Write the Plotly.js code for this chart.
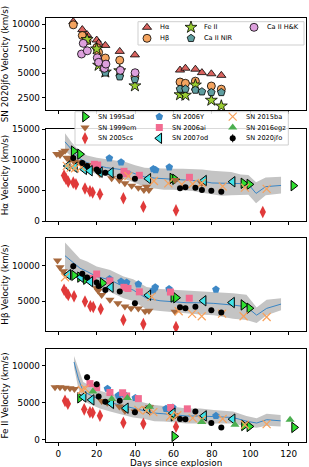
<!DOCTYPE html>
<html><head><meta charset="utf-8">
<script src="https://cdn.plot.ly/plotly-3.0.1.min.js"></script>
<style>html,body{margin:0;padding:0;background:#fff}#c{width:309px;height:467px}</style>
</head><body><div id="c"></div>
<script>
// ---------------- DATA ----------------
// SN 2020jfo epochs (days since explosion)
const jfoDays = [7.8, 12.5, 15.0, 20.0, 21.0, 24.5, 32.0, 39.9, 63.4, 66.2, 71.4, 74.8, 79.7, 84.9];
const jfoHa   = [10280, 9470, 8950, 8400, 8080, 7850, 7240, 6880, 5330, 5520, 5420, 5070, 4950, 4790];
const jfoHb   = [9950, 8860, 8330, 7630, 7140, 6560, 6340, 4700, 4110, 3980, 4200, null, 3700, 3380];
const jfoFe   = [null, null, 8450, 7490, 5820, 5130, 5260, 3720, 2810, 2760, 3800, null, 2250, 1660];
const jfoCaNIR= [null, null, null, null, null, 5050, 4650, 4380, 3390, 3390, 3290, 3120, 3050, 3050];
const jfoErr  = [450, 420, 400, 380, 380, 360, 360, 340, 320, 320, 320, 300, 300, 300];
const hkDays  = [12.1, 13.0, 15.1, 20.3, 21.0, 24.0, 24.8, 32.3, 40.0];
const hkVel   = [6970, 8060, 7300, 6590, 6120, 5510, 5940, 5300, 5060];

// H-alpha comparison sample
const ha95adD = [8.0, 11.3, 59.4, 60.8, 96.4, 99.5, 122.4];
const ha95adV = [11400, 10900, 6950, 6800, 6150, 5980, 5760];
const ha99emD = [-0.8, 0.9, 2.1, 3.5, 4.4, 5.7, 7.0, 8.2, 9.9, 12.2, 15.1, 18.2, 21.7, 27.8, 31.8, 34.7, 38.2, 41.7, 44.6, 46.0, 47.2, 60.8, 74.7];
const ha99emV = [10920, 10760, 11190, 11460, 10320, 9940, 10220, 9670, 9560, 9240, 9130, 8690, 7610, 6960, 6630, 6140, 5750, 5430, 5050, 5590, 5050, 6680, 6140];
const ha05csD = [3.0, 4.0, 5.2, 7.8, 9.2, 13.9, 16.5, 17.9, 21.7, 33.9, 44.3, 61.3, 106.5];
const ha05csV = [7400, 6900, 6400, 6250, 6000, 5300, 4850, 4650, 4380, 3700, 2330, 1730, 1460];
const ha06YD  = [26.6, 32.7, 49.5, 50.7, 57.8];
const ha06YV  = [10220, 9570, 8480, 8310, 8750];
const ha06aiD = [18.8, 20.5, 34.2, 35.6, 42.2, 68.3];
const ha06aiV = [9240, 9130, 8100, 7700, 7450, 7120];
const ha07odD = [4.9, 8.7, 13.5, 16.5, 21.7, 27.4, 46.9, 75.9, 90.8];
const ha07odV = [8970, 8750, 8420, 8200, 7950, 7880, 6900, 6600, 6400];
const ha15baD = [4.4, 6.5, 8.7, 12.0, 36.5, 49.8, 57.3, 64.3, 70.0, 74.7, 85.6, 97.2, 108.5];
const ha15baV = [9000, 8700, 8600, 8800, 7330, 6520, 6140, 5980, 6030, 6200, 5650, 5450, 5250];
const haMeanD = [3.5, 7, 11, 15, 20, 25, 30, 35, 40, 45, 50, 55, 60, 65, 70, 75, 80, 85, 90, 95, 99, 103, 108, 116];
const haMean  = [12900, 11600, 10200, 9500, 9100, 8700, 8500, 8300, 7700, 7200, 7000, 6900, 6900, 6800, 6700, 6500, 6200, 6200, 6200, 6100, 6000, 4500, 5600, 5800];
const haLo    = [11400, 10500, 9100, 8300, 7600, 7300, 7100, 6800, 6200, 5600, 5300, 5100, 5100, 5000, 4900, 4600, 4400, 4100, 4200, 4300, 4300, 2900, 4200, 4500];
const haHi    = [14300, 12800, 11400, 10700, 10300, 10100, 9900, 9600, 9100, 8700, 8600, 8500, 8500, 8500, 8500, 8400, 8200, 8100, 8000, 7600, 7500, 6300, 7100, 7200];

// H-beta comparison sample
const hb95adD = [8.2, 11.3, 14.4, 23.1, 59.9, 61.3, 96.4, 99.5];
const hb95adV = [8650, 8400, 8100, 7550, 5570, 5470, 4450, 3980];
const hb99emD = [-0.4, 0.9, 2.6, 4.5, 20.0, 20.8, 22.6, 26.9, 31.0, 34.7, 37.9, 41.7, 45.2, 47.2, 60.8];
const hb99emV = [10760, 9810, 9240, 8800, 6810, 6470, 5860, 5190, 4700, 4220, 3980, 3930, 3550, 3620, 3470];
const hb05csD = [3.0, 4.2, 5.2, 8.2, 13.9, 16.7, 18.2, 22.1, 33.9, 44.3, 61.3];
const hb05csV = [6600, 6170, 5860, 5690, 4930, 4260, 4150, 3880, 2310, 1730, 1310];
const hb06YD  = [26.7, 32.7, 35.6, 41.7, 49.5, 50.5, 57.7, 82.1];
const hb06YV  = [8120, 7780, 7640, 7380, 6550, 6950, 6710, 6640];
const hb06aiD = [18.0, 20.0, 26.9, 34.2, 36.3, 42.2, 58.4, 68.2];
const hb06aiV = [8200, 8840, 7860, 6950, 6780, 6310, 6280, 5400];
const hb07odD = [5.2, 11.8, 16.7, 27.4, 46.9, 75.7, 90.5];
const hb07odV = [8750, 8380, 7750, 6960, 5830, 5040, 4790];
const hb15baD = [3.5, 48.6, 62.7, 69.7, 74.7, 85.3, 96.5, 108.5];
const hb15baV = [8380, 5620, 3550, 3190, 2840, 3210, 2840, 2740];
const hbMeanD = [3.5, 7, 11.3, 15, 20, 27, 34, 39, 46, 53, 60, 67, 74, 81, 91, 98, 103.3, 108.5, 116];
const hbMean  = [11430, 10620, 9670, 9190, 8480, 8000, 7050, 6570, 5380, 5040, 4900, 4760, 4760, 4670, 4430, 4190, 3000, 3960, 4570];
const hbLo    = [9500, 9000, 8400, 7700, 6800, 6300, 5400, 5000, 3800, 3600, 3400, 3200, 3100, 3000, 2500, 2300, 1900, 3000, 3700];
const hbHi    = [13300, 12200, 11000, 10600, 9900, 9400, 8500, 8100, 7000, 6700, 6600, 6400, 6400, 6200, 6100, 5900, 4100, 5200, 5400];

// Fe II comparison sample
const fe95adD = [11.3, 60.0, 60.4, 96.7, 99.5, 122.8];
const fe95adV = [5650, 3220, 450, 1920, 1790, 1660];
const fe99emD = [-1.7, 0.9, 3.5, 6.1, 8.4, 22.6, 25.5, 31.8, 34.7, 40.0, 46.0, 47.5, 60.8];
const fe99emV = [7100, 7100, 7030, 6950, 6850, 5240, 5000, 4480, 3900, 3800, 4170, 4400, 3300];
const fe05csD = [3.5, 5.0, 13.5, 16.5, 17.9, 21.7, 33.9, 44.3, 61.3];
const fe05csV = [5250, 4850, 4100, 3700, 3650, 3250, 2300, 2150, 1750];
const fe06YD  = [25.6, 31.3, 34.2, 40.1, 56.1, 59.6, 82.1];
const fe06YV  = [6900, 5960, 6140, 5650, 4170, 4350, 3220];
const fe06aiD = [16.5, 20.0, 26.9, 33.5, 35.6, 41.7, 58.5, 67.2];
const fe06aiV = [7580, 7030, 6380, 6340, 5910, 5550, 4350, 4170];
const fe07odD = [13.2, 17.4, 27.6, 35.2, 46.5, 59.6, 75.9, 90.8];
const fe07odV = [5780, 5380, 4900, 4260, 4100, 3590, 3220, 2780];
const fe15baD = [12.2, 14.0, 41.7, 46.0, 49.5, 58.2, 62.0, 70.0, 74.7, 85.6, 97.2, 108.5];
const fe15baV = [6720, 6900, 4030, 3950, 3720, 3130, 3300, 2910, 2690, 2820, 2020, 2110];
const fe16egzD = [18.0, 27.8, 36.0, 47.5, 74.7, 92.0, 120.7];
const fe16egzV = [6500, 5510, 5650, 4450, 2380, 2020, 2690];
const feMeanD = [8.2, 10.4, 13, 16.5, 21.7, 27, 32, 39, 45, 50, 55, 60, 67, 74, 81, 86, 91, 98, 103.3, 108.5, 115.8];
const feMean  = [10500, 8300, 6500, 6050, 5400, 5000, 4700, 4200, 3900, 3600, 3500, 3400, 3200, 3200, 3100, 3050, 3000, 2500, 2250, 2700, 2550];
const feLo    = [9800, 7000, 5200, 4800, 4200, 3800, 3500, 3000, 2800, 2500, 2450, 2350, 2200, 2200, 2200, 2150, 2200, 1800, 1600, 1900, 1800];
const feHi    = [11300, 9600, 7800, 7300, 6600, 6200, 5900, 5400, 5000, 4700, 4550, 4450, 4200, 4200, 4000, 3950, 3800, 3200, 2900, 3500, 3350];

const xTicks = [0, 20, 40, 60, 80, 100, 120];
const lineNames = ['H\u03b1', 'H\u03b2', 'Fe II', 'Ca II NIR', 'Ca II H&K'];
const snNames = ['SN 1995ad', 'SN 1999em', 'SN 2005cs', 'SN 2006Y', 'SN 2006ai', 'SN 2007od', 'SN 2015ba', 'SN 2016egz', 'SN 2020jfo'];

// ---------------- STYLES ----------------
const FONT = 'DejaVu Sans, sans-serif';
const topSty = {
  'H\u03b1': {symbol: 'triangle-up', color: '#d9635f', size: 8, line: {color: '#000', width: 0.8}},
  'H\u03b2': {symbol: 'circle', color: '#f4a460', size: 8, line: {color: '#000', width: 0.8}},
  'Fe II': {symbol: 'star', color: '#9acd32', size: 9, line: {color: '#000', width: 0.8}},
  'Ca II NIR': {symbol: 'pentagon', color: '#5f9ea0', size: 8, line: {color: '#000', width: 0.8}},
  'Ca II H&K': {symbol: 'circle', color: '#dda0dd', size: 8, line: {color: '#000', width: 0.8}}
};
const snSty = {
  'SN 1995ad': {symbol: 'triangle-right', color: '#2fe02f', size: 9, line: {color: '#000', width: 1}},
  'SN 1999em': {symbol: 'triangle-down', color: '#a8693d', size: 8, line: {width: 0}},
  'SN 2005cs': {symbol: 'diamond-tall', color: '#e03a3a', size: 9, line: {width: 0}},
  'SN 2006Y': {symbol: 'pentagon', color: '#3d88c6', size: 8, line: {width: 0}},
  'SN 2006ai': {symbol: 'square', color: '#f26b90', size: 7, line: {width: 0}},
  'SN 2007od': {symbol: 'triangle-left', color: '#3fe3e8', size: 9, line: {color: '#000', width: 1}},
  'SN 2015ba': {symbol: 'x-thin-open', color: '#f7a15b', size: 8, line: {color: '#f7a15b', width: 1.2}},
  'SN 2016egz': {symbol: 'triangle-up', color: '#4caf50', size: 8, line: {width: 0}},
  'SN 2020jfo': {symbol: 'circle', color: '#000', size: 6, line: {width: 0}}
};

const traces = [];
function pts(xa, ya, xs, ys, sty, extra) {
  const t = {type: 'scatter', mode: 'markers', x: xs, y: ys, xaxis: xa, yaxis: ya,
    marker: sty, showlegend: false, hoverinfo: 'skip', cliponaxis: true};
  if (extra) Object.assign(t, extra);
  traces.push(t);
}
function band(xa, ya, d, lo, hi, mean) {
  traces.push({type: 'scatter', mode: 'lines', x: d, y: lo, xaxis: xa, yaxis: ya,
    line: {width: 0, color: 'rgba(0,0,0,0)'}, showlegend: false, hoverinfo: 'skip'});
  traces.push({type: 'scatter', mode: 'lines', x: d, y: hi, xaxis: xa, yaxis: ya, fill: 'tonexty',
    fillcolor: '#c4c4c4', line: {width: 0, color: 'rgba(0,0,0,0)'}, showlegend: false, hoverinfo: 'skip'});
  traces.push({type: 'scatter', mode: 'lines', x: d, y: mean, xaxis: xa, yaxis: ya,
    line: {width: 1, color: '#3a86c4'}, showlegend: false, hoverinfo: 'skip'});
}
const jfoErrBar = {error_y: {type: 'data', array: jfoErr, visible: true, color: '#000', thickness: 1, width: 0}};

// Panel 1: SN 2020jfo lines
pts('x', 'y', jfoDays, jfoHa, topSty['H\u03b1']);
pts('x', 'y', jfoDays, jfoHb, topSty['H\u03b2']);
pts('x', 'y', jfoDays, jfoFe, topSty['Fe II']);
pts('x', 'y', jfoDays, jfoCaNIR, topSty['Ca II NIR']);
pts('x', 'y', hkDays, hkVel, topSty['Ca II H&K']);

// Panel 2: H-alpha
band('x2', 'y2', haMeanD, haLo, haHi, haMean);
pts('x2', 'y2', ha95adD, ha95adV, snSty['SN 1995ad']);
pts('x2', 'y2', ha99emD, ha99emV, snSty['SN 1999em']);
pts('x2', 'y2', ha05csD, ha05csV, snSty['SN 2005cs']);
pts('x2', 'y2', ha06YD, ha06YV, snSty['SN 2006Y']);
pts('x2', 'y2', ha06aiD, ha06aiV, snSty['SN 2006ai']);
pts('x2', 'y2', ha07odD, ha07odV, snSty['SN 2007od']);
pts('x2', 'y2', ha15baD, ha15baV, snSty['SN 2015ba']);
pts('x2', 'y2', jfoDays, jfoHa, snSty['SN 2020jfo'], jfoErrBar);

// Panel 3: H-beta
band('x3', 'y3', hbMeanD, hbLo, hbHi, hbMean);
pts('x3', 'y3', hb95adD, hb95adV, snSty['SN 1995ad']);
pts('x3', 'y3', hb99emD, hb99emV, snSty['SN 1999em']);
pts('x3', 'y3', hb05csD, hb05csV, snSty['SN 2005cs']);
pts('x3', 'y3', hb06YD, hb06YV, snSty['SN 2006Y']);
pts('x3', 'y3', hb06aiD, hb06aiV, snSty['SN 2006ai']);
pts('x3', 'y3', hb07odD, hb07odV, snSty['SN 2007od']);
pts('x3', 'y3', hb15baD, hb15baV, snSty['SN 2015ba']);
pts('x3', 'y3', jfoDays, jfoHb, snSty['SN 2020jfo'], jfoErrBar);

// Panel 4: Fe II
band('x4', 'y4', feMeanD, feLo, feHi, feMean);
pts('x4', 'y4', fe95adD, fe95adV, snSty['SN 1995ad']);
pts('x4', 'y4', fe99emD, fe99emV, snSty['SN 1999em']);
pts('x4', 'y4', fe05csD, fe05csV, snSty['SN 2005cs']);
pts('x4', 'y4', fe06YD, fe06YV, snSty['SN 2006Y']);
pts('x4', 'y4', fe06aiD, fe06aiV, snSty['SN 2006ai']);
pts('x4', 'y4', fe07odD, fe07odV, snSty['SN 2007od']);
pts('x4', 'y4', fe15baD, fe15baV, snSty['SN 2015ba']);
pts('x4', 'y4', fe16egzD, fe16egzV, snSty['SN 2016egz']);
pts('x4', 'y4', jfoDays, jfoFe, snSty['SN 2020jfo'], jfoErrBar);

// ---------------- LEGENDS (overlay pixel axis x5/y5) ----------------
const annotations = [];
const shapes = [];
function legendBlock(names, styles, colX, rowY, box, fontSize) {
  shapes.push({type: 'rect', xref: 'x5', yref: 'y5', layer: 'below',
    x0: box[0], x1: box[1], y0: box[2], y1: box[3],
    fillcolor: 'rgba(255,255,255,0.85)', line: {color: '#cfcfcf', width: 1}});
  names.forEach((n, i) => {
    const c = Math.floor(i / rowY.length), r = i % rowY.length;
    const t = {type: 'scatter', mode: 'markers', x: [colX[c]], y: [rowY[r]], xaxis: 'x5', yaxis: 'y5',
      marker: styles[n], showlegend: false, hoverinfo: 'skip', cliponaxis: false};
    if (n === 'SN 2020jfo') t.error_y = {type: 'data', array: [4], visible: true, color: '#000', thickness: 1, width: 0};
    traces.push(t);
    annotations.push({xref: 'x5', yref: 'y5', x: colX[c] + 11, y: rowY[r], text: n, showarrow: false,
      xanchor: 'left', yanchor: 'middle', font: {family: FONT, size: fontSize, color: '#000'}});
  });
}
legendBlock(lineNames, topSty, [147, 191, 254], [27.3, 38.3], [138, 304, 21.7, 45], 6.6);
legendBlock(snNames, snSty, [85, 159.3, 232.7], [116.7, 127.5, 138.3], [75, 288.3, 111.7, 145], 6.6);

// x-axis title (placed below the bottom panel)
annotations.push({xref: 'paper', yref: 'paper', x: 0.5, y: -0.05, yanchor: 'middle', xanchor: 'center',
  text: 'Days since explosion', showarrow: false, font: {family: FONT, size: 8.8, color: '#000'}});

// ---------------- LAYOUT ----------------
const axFont = {family: FONT, size: 8.8, color: '#000'};
const titleFont = {family: FONT, size: 8.8, color: '#000'};
function xAx(anchor, labels) {
  const a = {domain: [0, 1], anchor: anchor, range: [-6.4, 129], autorange: false, tickvals: xTicks,
    showticklabels: labels, ticks: 'outside', ticklen: 3, tickwidth: 1, tickcolor: '#000', tickformat: 'd',
    showline: true, mirror: true, linecolor: '#000', linewidth: 1.3, showgrid: false, zeroline: false,
    tickfont: axFont};
  if (anchor !== 'y') a.matches = 'x';
  return a;
}
function yAx(anchor, dom, range, ticks, title) {
  return {domain: dom, anchor: anchor, range: range, autorange: false, tickvals: ticks, tickformat: 'd',
    ticks: 'outside', ticklen: 3, tickwidth: 1, tickcolor: '#000',
    showline: true, mirror: true, linecolor: '#000', linewidth: 1.3, showgrid: false, zeroline: false,
    tickfont: axFont, title: {text: title, font: titleFont, standoff: 3}};
}
const layout = {
  width: 309, height: 467,
  margin: {l: 46, r: 3, t: 18, b: 25},
  paper_bgcolor: '#fff', plot_bgcolor: 'rgba(0,0,0,0)',
  showlegend: false,
  font: {family: FONT, size: 8.8, color: '#000'},
  xaxis: xAx('y', false),
  xaxis2: xAx('y2', false),
  xaxis3: xAx('y3', false),
  xaxis4: xAx('y4', true),
  yaxis: yAx('x', [0.783, 1], [1250, 10650], [2500, 5000, 7500, 10000], 'SN 2020jfo Velocity (km/s)'),
  yaxis2: yAx('x2', [0.5212, 0.7382], [0, 15000], [0, 5000, 10000, 15000], 'H\u03b1 Velocity (km/s)'),
  yaxis3: yAx('x3', [0.2618, 0.4811], [750, 13950], [5000, 10000], 'H\u03b2 Velocity (km/s)'),
  yaxis4: yAx('x4', [0, 0.2193], [-310, 12250], [0, 5000, 10000], 'Fe II Velocity (km/s)'),
  xaxis5: {domain: [0, 1], anchor: 'y5', range: [46, 306], autorange: false, visible: false, fixedrange: true},
  yaxis5: {domain: [0, 1], anchor: 'x5', range: [442, 18], autorange: false, visible: false, fixedrange: true},
  shapes: shapes,
  annotations: annotations
};
Plotly.newPlot('c', traces, layout, {staticPlot: true, displayModeBar: false});
</script></body></html>
